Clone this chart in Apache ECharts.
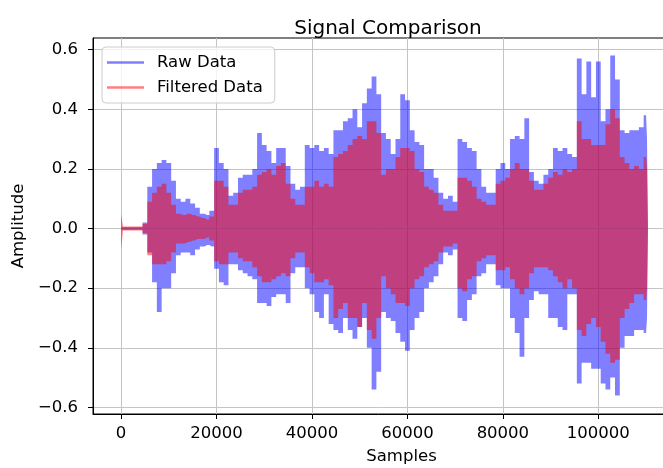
<!DOCTYPE html>
<html>
<head>
<meta charset="utf-8">
<script src="https://cdn.jsdelivr.net/npm/echarts@6/dist/echarts.min.js"></script>
<style>
html,body{margin:0;padding:0;background:#fff;}
#chart{width:663px;height:468px;}
</style>
</head>
<body>
<div id="chart"></div>
<script>
// Sample positions where the envelope was read
const xs = [0,800,1000,2000,3000,4000,5000,6000,7000,8000,9000,10000,11000,12000,13000,14000,15000,16000,17000,18000,19000,
20000,21000,22000,23000,24000,25000,26000,27000,28000,29000,30000,31000,32000,33000,34000,35000,36000,37000,38000,39000,
40000,41000,42000,43000,44000,45000,46000,47000,48000,49000,50000,51000,52000,53000,54000,55000,56000,57000,58000,59000,
60000,61000,62000,63000,64000,65000,66000,67000,68000,69000,70000,71000,72000,73000,74000,75000,76000,77000,78000,79000,
80000,81000,82000,83000,84000,85000,86000,87000,88000,89000,90000,91000,92000,93000,94000,95000,96000,97000,98000,99000,
100000,101000,102000,103000,104000,105000,106000,107000,108000,109000,110000,110400];

// Raw data: upper / lower envelope
const rawHi = [0.004,0.004,0.004,0.004,0.004,0.004,0.02,0.14,0.20,0.22,0.23,0.22,0.16,0.10,0.09,0.10,0.084,0.07,0.05,0.045,0.06,
0.27,0.22,0.20,0.11,0.12,0.17,0.18,0.18,0.20,0.32,0.28,0.26,0.22,0.27,0.27,0.21,0.15,0.13,0.14,0.28,
0.27,0.28,0.26,0.27,0.25,0.33,0.33,0.36,0.37,0.40,0.34,0.42,0.47,0.51,0.45,0.32,0.30,0.25,0.30,0.45,
0.43,0.33,0.29,0.28,0.20,0.20,0.17,0.12,0.10,0.11,0.09,0.30,0.29,0.27,0.26,0.20,0.14,0.12,0.12,0.20,
0.22,0.20,0.30,0.31,0.30,0.37,0.19,0.16,0.15,0.18,0.20,0.27,0.26,0.27,0.25,0.24,0.57,0.45,0.56,0.44,
0.56,0.36,0.40,0.58,0.50,0.33,0.32,0.33,0.33,0.34,0.38,0.30];
const rawLo = [-0.004,-0.004,-0.004,-0.004,-0.004,-0.004,-0.02,-0.08,-0.18,-0.28,-0.20,-0.20,-0.15,-0.09,-0.08,-0.08,-0.09,-0.07,-0.06,-0.055,-0.06,
-0.135,-0.18,-0.19,-0.12,-0.12,-0.14,-0.15,-0.16,-0.17,-0.25,-0.25,-0.26,-0.23,-0.22,-0.22,-0.25,-0.15,-0.13,-0.13,-0.20,
-0.22,-0.28,-0.30,-0.22,-0.32,-0.34,-0.35,-0.30,-0.34,-0.37,-0.33,-0.30,-0.40,-0.54,-0.48,-0.28,-0.30,-0.31,-0.35,-0.38,
-0.41,-0.34,-0.30,-0.28,-0.20,-0.18,-0.16,-0.12,-0.08,-0.09,-0.07,-0.30,-0.31,-0.24,-0.22,-0.16,-0.15,-0.12,-0.12,-0.19,
-0.20,-0.20,-0.30,-0.35,-0.43,-0.30,-0.24,-0.21,-0.22,-0.22,-0.30,-0.30,-0.33,-0.34,-0.22,-0.22,-0.52,-0.45,-0.45,-0.47,
-0.47,-0.52,-0.54,-0.50,-0.56,-0.40,-0.36,-0.36,-0.34,-0.34,-0.35,-0.30];

// Filtered data: upper / lower envelope
const filtHi = [0.048,0.007,0.007,0.007,0.007,0.007,0.015,0.09,0.12,0.14,0.15,0.12,0.08,0.05,0.045,0.05,0.045,0.04,0.035,0.03,0.04,
0.16,0.16,0.14,0.08,0.08,0.12,0.13,0.13,0.14,0.18,0.19,0.20,0.18,0.21,0.22,0.15,0.10,0.08,0.08,0.14,
0.14,0.16,0.14,0.15,0.14,0.24,0.25,0.26,0.28,0.30,0.31,0.30,0.36,0.36,0.32,0.18,0.20,0.20,0.24,0.27,
0.27,0.26,0.20,0.19,0.14,0.13,0.12,0.08,0.06,0.06,0.06,0.17,0.17,0.16,0.14,0.10,0.09,0.08,0.08,0.15,
0.16,0.17,0.20,0.22,0.20,0.20,0.16,0.13,0.13,0.15,0.17,0.19,0.18,0.20,0.19,0.20,0.36,0.30,0.30,0.28,
0.28,0.28,0.35,0.40,0.37,0.24,0.22,0.20,0.21,0.20,0.24,0.20];
const filtLo = [-0.07,-0.007,-0.007,-0.007,-0.007,-0.007,-0.015,-0.09,-0.12,-0.12,-0.12,-0.11,-0.08,-0.05,-0.05,-0.045,-0.04,-0.035,-0.035,-0.03,-0.04,
-0.11,-0.12,-0.12,-0.08,-0.08,-0.10,-0.11,-0.11,-0.13,-0.16,-0.18,-0.18,-0.17,-0.16,-0.15,-0.16,-0.10,-0.08,-0.08,-0.13,
-0.15,-0.18,-0.18,-0.17,-0.19,-0.30,-0.27,-0.25,-0.30,-0.30,-0.33,-0.25,-0.34,-0.37,-0.30,-0.16,-0.20,-0.22,-0.25,-0.25,
-0.26,-0.20,-0.17,-0.16,-0.13,-0.12,-0.11,-0.08,-0.06,-0.06,-0.05,-0.20,-0.21,-0.17,-0.16,-0.11,-0.10,-0.09,-0.09,-0.14,
-0.14,-0.13,-0.17,-0.20,-0.22,-0.20,-0.15,-0.13,-0.13,-0.13,-0.14,-0.16,-0.18,-0.20,-0.17,-0.20,-0.34,-0.36,-0.32,-0.30,
-0.33,-0.38,-0.42,-0.45,-0.44,-0.30,-0.27,-0.25,-0.22,-0.22,-0.24,-0.20];

const xTicks = [0, 20000, 40000, 60000, 80000, 100000];
const yTicks = [-0.6, -0.4, -0.2, 0.0, 0.2, 0.4, 0.6];

const BLUE = 'rgba(0,0,255,0.5)';
const RED = 'rgba(255,0,0,0.5)';
const FONT = 'DejaVu Sans';

function pairs(ys) { return xs.map((x, i) => [x, ys[i]]); }
function band(name, ys, color) {
  return {
    name: name, type: 'line', data: pairs(ys), step: 'middle',
    showSymbol: false, symbol: 'none', silent: true,
    color: color, itemStyle: {color: color},
    lineStyle: {width: 0, opacity: 0},
    areaStyle: {color: color, opacity: 1}
  };
}

const chart = echarts.init(document.getElementById('chart'), null, {renderer: 'canvas'});
chart.setOption({
  animation: false,
  backgroundColor: '#fff',
  title: {
    text: 'Signal Comparison', left: 383, textAlign: 'center', top: 14,
    textStyle: {fontFamily: FONT, fontSize: 20, fontWeight: 'normal', color: '#000'}
  },
  legend: {
    orient: 'vertical', left: 102, top: 47,
    icon: 'rect', itemWidth: 37, itemHeight: 2.5, itemGap: 6,
    padding: [6, 12, 6, 5],
    backgroundColor: 'rgba(255,255,255,0.8)', borderColor: '#cccccc', borderWidth: 1, borderRadius: 4,
    textStyle: {fontFamily: FONT, fontSize: 16.5, color: '#000', lineHeight: 19, padding: [0, 0, 0, 8]},
    data: [
      {name: 'Raw Data', itemStyle: {color: BLUE}},
      {name: 'Filtered Data', itemStyle: {color: RED}}
    ]
  },
  grid: {
    left: 93, top: 38, width: 617, height: 376,
    containLabel: false, outerBoundsMode: 'none',
    show: true, borderColor: '#000', borderWidth: 1, backgroundColor: 'transparent'
  },
  xAxis: {
    type: 'value', min: -5880, max: 123400, splitNumber: 6,
    name: 'Samples', nameLocation: 'middle', nameGap: 34,
    nameTextStyle: {fontFamily: FONT, fontSize: 16.5, color: '#000'},
    axisLine: {show: true, onZero: false, lineStyle: {color: '#000', width: 1}},
    axisTick: {show: true, length: 5, lineStyle: {color: '#000'}, customValues: xTicks},
    axisLabel: {fontFamily: FONT, fontSize: 16.5, color: '#000', margin: 11, customValues: xTicks,
                formatter: v => String(Math.round(v))},
    splitLine: {show: true, lineStyle: {color: '#c4c4c4', width: 1}}
  },
  yAxis: {
    type: 'value', min: -0.622, max: 0.639, splitNumber: 6,
    name: 'Amplitude', nameLocation: 'middle', nameGap: 58, nameRotate: 90,
    nameTextStyle: {fontFamily: FONT, fontSize: 16.5, color: '#000'},
    axisLine: {show: true, onZero: false, lineStyle: {color: '#000', width: 1}},
    axisTick: {show: true, length: 5, lineStyle: {color: '#000'}, customValues: yTicks},
    axisLabel: {fontFamily: FONT, fontSize: 16.5, color: '#000', margin: 15, customValues: yTicks,
                formatter: v => (v < 0 ? '\u2212' : '') + Math.abs(v).toFixed(1)},
    splitLine: {show: true, lineStyle: {color: '#c4c4c4', width: 1}}
  },
  series: [
    band('Raw Data', rawHi, BLUE),
    band('Raw Data', rawLo, BLUE),
    band('Filtered Data', filtHi, RED),
    band('Filtered Data', filtLo, RED)
  ]
});
</script>
</body>
</html>
